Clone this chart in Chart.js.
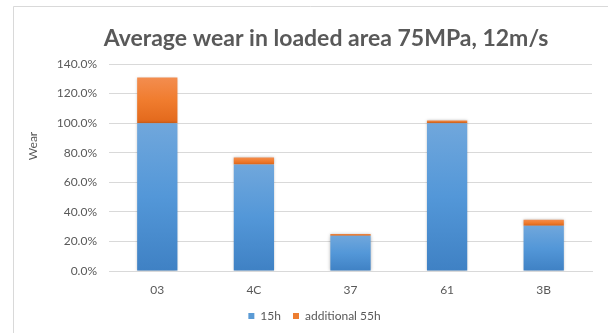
<!DOCTYPE html>
<html>
<head>
<meta charset="utf-8">
<script src="https://cdn.jsdelivr.net/npm/chart.js@4/dist/chart.umd.min.js"></script>
<style>
  html, body { margin: 0; padding: 0; background: #ffffff; }
  #wrap { width: 608px; height: 333px; position: relative; }
</style>
</head>
<body>
<div id="wrap"><canvas id="c" width="608" height="333"></canvas></div>
<script>
// Samples and wear values (percent)
const categories = ['03', '4C', '37', '61', '3B'];
const wear15h = [100, 72, 23.8, 100, 30.6];
const wearAdditional55h = [30.8, 4.8, 1.3, 1.8, 4.1];
const seriesNames = ['15h', 'additional 55h'];
const yTicks = [0, 20, 40, 60, 80, 100, 120, 140];

const titleText = 'Average wear in loaded area 75MPa, 12m/s';
const axisTitleText = 'Wear';
const textGray = '#595959';
const gridGray = '#d9d9d9';
const fontFamily = 'Lato, "Open Sans", sans-serif';

// Vertical gradient spanning one bar segment
function segmentGradient(ctx, datasetIndex, colors) {
  const chart = ctx.chart;
  const y = chart.scales.y;
  if (!y || ctx.type !== 'data') return colors[1];
  const i = ctx.dataIndex;
  const base = datasetIndex === 0 ? 0 : wear15h[i];
  const top = base + (datasetIndex === 0 ? wear15h[i] : wearAdditional55h[i]);
  const y0 = y.getPixelForValue(top);
  const y1 = y.getPixelForValue(base);
  if (!isFinite(y0) || !isFinite(y1) || y0 === y1) return colors[1];
  const g = chart.ctx.createLinearGradient(0, y0, 0, y1);
  g.addColorStop(0, colors[0]);
  g.addColorStop(0.5, colors[1]);
  g.addColorStop(1, colors[2]);
  return g;
}

const blueStops = ['#70a7dc', '#5397d8', '#3f81c4'];
const orangeStops = ['#f38d4f', '#f07c2e', '#e2681b'];

// Frame, title and axis title drawn on the canvas
const decorations = {
  id: 'decorations',
  beforeDraw(chart) {
    const c = chart.ctx;
    c.save();
    c.fillStyle = '#ffffff';
    c.fillRect(0, 0, chart.width, chart.height);
    c.strokeStyle = gridGray;
    c.lineWidth = 1;
    c.beginPath();
    c.moveTo(13.5, chart.height);
    c.lineTo(13.5, 6.5);
    c.lineTo(chart.width, 6.5);
    c.stroke();
    c.restore();
  },
  afterDraw(chart) {
    const c = chart.ctx;
    c.save();
    c.fillStyle = textGray;
    c.font = 'bold 23px ' + fontFamily;
    c.textAlign = 'center';
    c.textBaseline = 'alphabetic';
    c.fillText(titleText, 326, 46);

    c.font = '12px ' + fontFamily;
    c.translate(33, 146);
    c.rotate(-Math.PI / 2);
    c.textBaseline = 'middle';
    c.fillText(axisTitleText, 0, 0);
    c.restore();
  }
};

// Soft shadow around the bars
const barShadow = {
  id: 'barShadow',
  beforeDatasetsDraw(chart) {
    const c = chart.ctx;
    c.save();
    c.shadowColor = 'rgba(0,0,0,0.28)';
    c.shadowBlur = 3;
    c.shadowOffsetX = 0;
    c.shadowOffsetY = 0;
  },
  afterDatasetsDraw(chart) {
    chart.ctx.restore();
  }
};

new Chart(document.getElementById('c'), {
  type: 'bar',
  data: {
    labels: categories,
    datasets: [
      {
        label: seriesNames[0],
        data: wear15h,
        backgroundColor: (ctx) => segmentGradient(ctx, 0, blueStops),
        borderWidth: 0,
        categoryPercentage: 1,
        barPercentage: 0.417
      },
      {
        label: seriesNames[1],
        data: wearAdditional55h,
        backgroundColor: (ctx) => segmentGradient(ctx, 1, orangeStops),
        borderWidth: 0,
        categoryPercentage: 1,
        barPercentage: 0.417
      }
    ]
  },
  options: {
    responsive: false,
    animation: false,
    devicePixelRatio: 1,
    layout: { padding: { left: 37, right: 16, top: 64, bottom: 1 } },
    plugins: {
      title: { display: false },
      tooltip: { enabled: false },
      legend: {
        position: 'bottom',
        labels: {
          boxWidth: 6,
          boxHeight: 6,
          padding: 12,
          color: textGray,
          font: { family: fontFamily, size: 12 },
          generateLabels(chart) {
            return chart.data.datasets.map((ds, i) => ({
              text: ds.label,
              fillStyle: i === 0 ? '#5b9bd5' : '#ed7d31',
              strokeStyle: i === 0 ? '#5b9bd5' : '#ed7d31',
              lineWidth: 0,
              fontColor: textGray,
              datasetIndex: i
            }));
          }
        }
      }
    },
    scales: {
      x: {
        stacked: true,
        afterFit(scale) { scale.height = 27; },
        grid: { display: false, drawTicks: false },
        border: { display: true, color: gridGray },
        ticks: {
          color: textGray,
          padding: 12,
          font: { family: fontFamily, size: 12 }
        }
      },
      y: {
        stacked: true,
        min: 0,
        max: 140,
        afterFit(scale) { scale.width = 72; },
        afterBuildTicks(scale) { scale.ticks = yTicks.map(v => ({ value: v })); },
        grid: { color: gridGray, drawTicks: false },
        border: { display: false },
        ticks: {
          color: textGray,
          padding: 12,
          font: { family: fontFamily, size: 12 },
          callback: (v) => Number(v).toFixed(1) + '%'
        }
      }
    }
  },
  plugins: [decorations, barShadow]
});
</script>
</body>
</html>
